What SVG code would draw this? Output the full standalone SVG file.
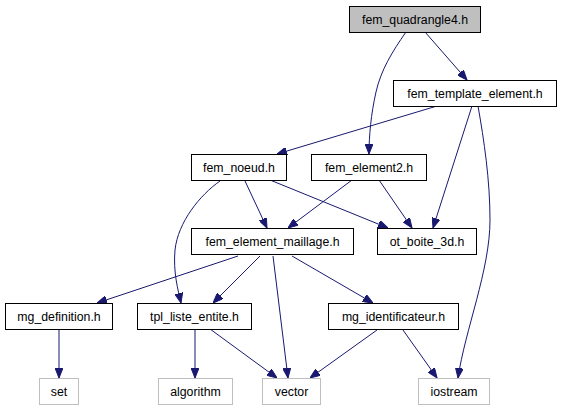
<svg xmlns="http://www.w3.org/2000/svg" width="563" height="411" viewBox="0 0 563 411">
<style>
.n rect{fill:#fff;stroke:#000;stroke-width:1}
.g rect{fill:#fff;stroke:#bfbfbf;stroke-width:1}
#n_quad rect{fill:#bfbfbf}
text{font-family:"Liberation Sans",Arial,sans-serif;font-size:12.3px;text-anchor:middle;fill:#000}
#edges path{fill:none;stroke:#191970;stroke-width:1;marker-end:url(#ah)}
</style>
<defs>
<marker id="ah" viewBox="0 0 10 8" refX="10" refY="4" markerWidth="10" markerHeight="8" markerUnits="userSpaceOnUse" orient="auto">
<path d="M0,0 L10,4 L0,8 z" fill="#191970" stroke="#191970"/>
</marker>
</defs>
<rect width="563" height="411" fill="#fff"/>
<g id="edges">
<path d="M425,32 L467,80"/>
<path d="M406,32 C392,52 381,70 376,92 C371,114 369,136 369,154"/>
<path d="M437,106 L277,154"/>
<path d="M472,106 L433,228"/>
<path d="M478,106 C484,140 490,180 490,220 C490,270 465,330 458,378"/>
<path d="M245,181 L267,228"/>
<path d="M220,181 C200,195 178,222 175,250 C173,272 178,290 181,303"/>
<path d="M270,180 L388,228"/>
<path d="M352,180 L288,228"/>
<path d="M379,180 L412,228"/>
<path d="M238,256 L97,303"/>
<path d="M260,256 L213,303"/>
<path d="M273,256 L288,378"/>
<path d="M292,256 L373,303"/>
<path d="M59,330 L59,378"/>
<path d="M195,329 L195,378"/>
<path d="M210,329 L277,378"/>
<path d="M377,330 L310,378"/>
<path d="M403,330 L437,378"/>
</g>
<g id="n_quad" class="n"><rect x="349.5" y="6.5" width="131" height="26"/><text x="415" y="24">fem_quadrangle4.h</text></g>
<g id="n_template" class="n"><rect x="393.5" y="80.5" width="163" height="26"/><text x="475" y="98">fem_template_element.h</text></g>
<g id="n_noeud" class="n"><rect x="191.5" y="154.5" width="95" height="26"/><text x="239" y="172">fem_noeud.h</text></g>
<g id="n_element2" class="n"><rect x="311.5" y="154.5" width="115" height="26"/><text x="369" y="172">fem_element2.h</text></g>
<g id="n_maillage" class="n"><rect x="191.5" y="228.5" width="162" height="26"/><text x="272.5" y="246">fem_element_maillage.h</text></g>
<g id="n_boite" class="n"><rect x="377.5" y="228.5" width="99" height="26"/><text x="427" y="246">ot_boite_3d.h</text></g>
<g id="n_mgdef" class="n"><rect x="5.5" y="303.5" width="107" height="26"/><text x="59" y="321">mg_definition.h</text></g>
<g id="n_tpl" class="n"><rect x="137.5" y="303.5" width="114" height="26"/><text x="194.5" y="321">tpl_liste_entite.h</text></g>
<g id="n_mgid" class="n"><rect x="328.5" y="303.5" width="130" height="26"/><text x="393.5" y="321">mg_identificateur.h</text></g>
<g id="n_set" class="g"><rect x="39.5" y="378.5" width="39" height="26"/><text x="59" y="396">set</text></g>
<g id="n_algo" class="g"><rect x="158.5" y="378.5" width="74" height="26"/><text x="195.5" y="396">algorithm</text></g>
<g id="n_vector" class="g"><rect x="262.5" y="378.5" width="58" height="26"/><text x="291.5" y="396">vector</text></g>
<g id="n_iostream" class="g"><rect x="418.5" y="378.5" width="71" height="26"/><text x="454" y="396">iostream</text></g>
</svg>
